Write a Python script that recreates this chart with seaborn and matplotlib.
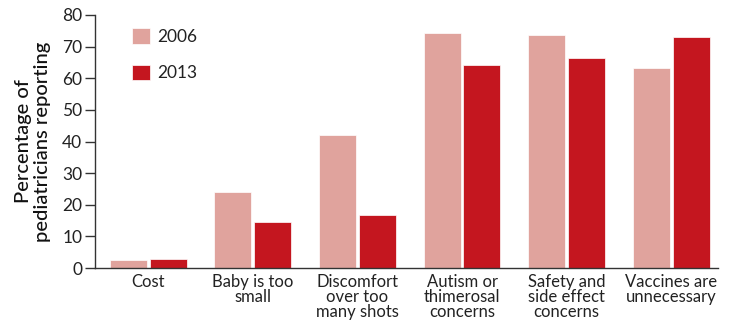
import matplotlib
matplotlib.use("Agg")
import matplotlib.pyplot as plt
import seaborn as sns
import pandas as pd

categories = ["Cost", "Baby is too\nsmall", "Discomfort\nover too\nmany shots",
              "Autism or\nthimerosal\nconcerns", "Safety and\nside effect\nconcerns",
              "Vaccines are\nunnecessary"]
years = ["2006", "2013"]
values_2006 = [2.5, 24.0, 42.0, 74.2, 73.7, 63.3]
values_2013 = [2.8, 14.7, 16.9, 64.3, 66.5, 73.1]
yticks = [0, 10, 20, 30, 40, 50, 60, 70, 80]

df = pd.DataFrame({
    "category": categories * 2,
    "year": [years[0]] * len(categories) + [years[1]] * len(categories),
    "value": values_2006 + values_2013,
})

sns.set_theme(style="white")
plt.rcParams['font.family'] = ['Lato', 'DejaVu Sans']

fig = plt.figure(figsize=(7.3, 3.31), dpi=100)
ax = fig.add_axes([0.130, 0.190, 0.854, 0.765])

palette = {"2006": "#E0A39D", "2013": "#C4161F"}
sns.barplot(data=df, x="category", y="value", hue="year", order=categories,
            hue_order=years, palette=palette, width=0.76, gap=0.07,
            saturation=1, edgecolor="white", linewidth=0.5, ax=ax)

ax.set_ylim(0, 80)
ax.set_xlim(-0.51, 5.45)
ax.set_yticks(yticks)
ax.set_yticklabels([str(t) for t in yticks], fontsize=12.5, color="#222222")
ax.tick_params(axis="y", direction="out", length=7, width=1, color="#333333",
               left=True, pad=2)
ax.tick_params(axis="x", length=0, labelsize=12, colors="#222222", pad=4)
ax.set_xticks(range(len(categories)))
ax.set_xticklabels(categories, fontsize=12, linespacing=0.95)
ax.set_xlabel("")
ax.set_ylabel("Percentage of\npediatricians reporting", fontsize=14.5,
              color="#111111", linespacing=1.15, labelpad=8, fontweight="medium")

for s in ["top", "right"]:
    ax.spines[s].set_visible(False)
for s in ["left", "bottom"]:
    ax.spines[s].set_color("#333333")
    ax.spines[s].set_linewidth(1)

handles, labels = ax.get_legend_handles_labels()
leg = ax.legend(handles, labels, loc="upper left", bbox_to_anchor=(0.035, 1.01),
                frameon=False, fontsize=12.5, handlelength=1.0, handleheight=1.0,
                labelspacing=1.15, handletextpad=0.45)
for t in leg.get_texts():
    t.set_color("#222222")

fig.savefig("out.png", dpi=100)
